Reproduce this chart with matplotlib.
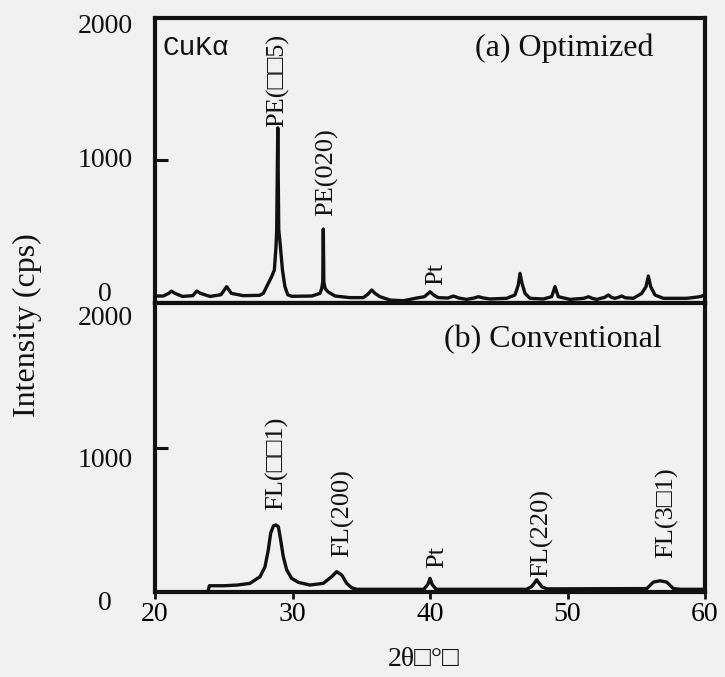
import matplotlib
matplotlib.use("Agg")
import matplotlib.pyplot as plt
import matplotlib.transforms as mtransforms
import numpy as np

plt.rcParams['font.family'] = ['Liberation Serif', 'DejaVu Sans']

# (2theta, cps) (a) Optimized
trace_a = [(20.0, -15), (20.6, -15), (21.0, 5), (21.2, 22), (21.45, 5), (22.0, -18),
           (22.75, -12), (23.03, 22), (23.3, 5), (24.0, -18), (24.8, -5), (25.21, 55),
           (25.55, 5), (26.4, -12), (27.6, -10), (27.88, 5), (28.12, 55), (28.48, 129),
           (28.68, 179), (28.8, 353), (28.85, 480), (28.93, 1240), (29.0, 480), (29.12, 353),
           (29.27, 179), (29.45, 55), (29.65, -5), (29.94, -17), (31.4, -15), (32.0, 5),
           (32.12, 40), (32.2, 90), (32.24, 485), (32.28, 90), (32.38, 40), (32.6, 15),
           (33.1, -15), (34.18, -27), (35.15, -27), (35.5, 0), (35.76, 30), (36.0, 5),
           (36.36, -20), (37.09, -45), (38.06, -50), (39.03, -30), (39.6, -20), (40.0, 17),
           (40.3, -10), (40.6, -27), (41.3, -30), (41.7, -15), (42.1, -30), (42.67, -40),
           (43.2, -30), (43.52, -20), (43.9, -30), (44.36, -37), (45.58, -32), (46.18, -7),
           (46.42, 67), (46.55, 154), (46.69, 80), (46.91, 5), (47.27, -32), (48.24, -37),
           (48.85, -20), (49.09, 55), (49.33, -20), (50.18, -40), (51.2, -32), (51.52, -20),
           (51.8, -32), (52.12, -40), (52.7, -25), (52.97, -7), (53.2, -25), (53.45, -32),
           (53.7, -25), (53.94, -15), (54.2, -28), (54.79, -32), (55.4, 5), (55.71, 55),
           (55.88, 134), (56.05, 55), (56.36, -7), (56.97, -32), (58.67, -32), (59.64, -20),
           (60.0, -7)]

# (2theta, cps) (b) Conventional
trace_b = [(20.0, -12), (23.85, -12), (23.95, 30), (25.0, 30), (26.0, 35), (26.91, 47),
           (27.64, 94), (28.0, 164), (28.24, 282), (28.41, 399), (28.61, 451), (28.8, 458),
           (28.97, 446), (29.14, 352), (29.33, 235), (29.58, 141), (29.94, 82), (30.42, 54),
           (31.27, 35), (32.24, 47), (32.85, 94), (33.21, 129), (33.58, 106), (33.94, 47),
           (34.3, 16), (34.67, 5), (39.55, 5), (39.85, 40), (40.0, 82), (40.15, 40),
           (40.45, 5), (47.03, 5), (47.4, 25), (47.6, 50), (47.76, 72), (47.92, 50),
           (48.15, 22), (48.5, 8), (55.76, 10), (56.25, 56), (56.73, 65), (57.21, 56),
           (57.7, 10), (58.2, 5), (60.0, 5)]

peak_names_a = ["PE(□□5)", "PE(020)", "Pt"]
peak_x_a = [28.95, 32.49, 40.44]
peak_y_a = [1245, 580, 67]

peak_names_b = ["FL(□□1)", "FL(200)", "Pt", "FL(220)", "FL(3□1)"]
peak_x_b = [28.87, 33.64, 40.5, 48.1, 57.2]
peak_y_b = [563, 232, 155, 92, 225]

xticks = [20, 30, 40, 50, 60]
yticks = [0, 1000, 2000]

bg = "#f1f1f1"
ink = "#111111"
W, H = 725, 677

fig = plt.figure(figsize=(7.25, 6.77), dpi=100)
fig.patch.set_facecolor(bg)
ax_a = fig.add_axes([155 / W, 1 - 303 / H, 550 / W, 285 / H])
ax_b = fig.add_axes([155 / W, 1 - 592 / H, 550 / W, 289 / H])

panels = [(ax_a, trace_a, (-67, 2060), peak_names_a, peak_x_a, peak_y_a, 0),
          (ax_b, trace_b, (-14, 2021), peak_names_b, peak_x_b, peak_y_b, -0.13)]

for ax, trace, ylim, names, px, py, shift in panels:
    x, y = np.array(trace).T
    ax.plot(x, y, color=ink, lw=2.4, solid_joinstyle="round")
    ax.set_xlim(20, 60)
    ax.set_ylim(*ylim)
    ax.set_facecolor(bg)
    for s in ax.spines.values():
        s.set_linewidth(3)
        s.set_color(ink)
    ax.set_yticks([])
    ax.set_yticks([1000], minor=True)
    ax.tick_params(axis="y", which="minor", direction="in", length=9.5, width=2.2,
                   color=ink, labelleft=False)
    ax.set_xticks(xticks)
    ax.tick_params(axis="x", direction="out", length=5, width=2, color=ink,
                   labelsize=20, pad=2)
    # y tick labels, centred left of the frame
    off = mtransforms.ScaledTranslation(0, shift, fig.dpi_scale_trans)
    tr = mtransforms.blended_transform_factory(ax.transAxes, ax.transData) + off
    for v in yticks:
        ax.text(-0.091, v, str(v), transform=tr, ha="center", va="center",
                fontsize=20, color=ink, clip_on=False)
    for name, xx, yy in zip(names, px, py):
        ax.text(xx, yy, name, rotation=90, ha="center", va="bottom",
                fontsize=19, color=ink)

ax_a.tick_params(axis="x", labelbottom=False, length=6)

ax_a.text(0.0145, 0.895, "CuKα", transform=ax_a.transAxes, ha="left", va="center",
          fontsize=20, family=["Liberation Mono", "DejaVu Sans"], color=ink)
ax_a.text(0.582, 0.895, "(a) Optimized", transform=ax_a.transAxes, ha="left",
          va="center", fontsize=23, color=ink)
ax_b.text(0.525, 0.872, "(b) Conventional", transform=ax_b.transAxes, ha="left",
          va="center", fontsize=23, color=ink)

fig.text(27 / W, 1 - 325 / H, "Intensity (cps)", rotation=90, ha="center",
         va="center", fontsize=23, color=ink)
fig.text(424 / W, 1 - 659 / H, "2θ□°□", ha="center", va="center", fontsize=20,
         color=ink)

fig.savefig("out.png", dpi=100, facecolor=bg)
